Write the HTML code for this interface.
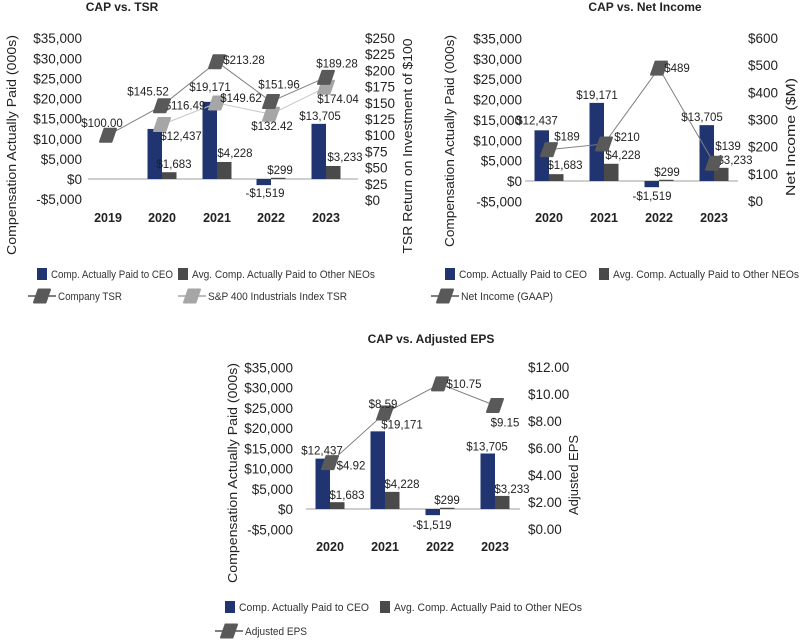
<!DOCTYPE html>
<html><head><meta charset="utf-8"><style>
html,body{margin:0;padding:0;background:#fff;}
svg{display:block;font-family:"Liberation Sans",sans-serif;}
</style></head><body>
<svg id="s" width="800" height="640" viewBox="0 0 800 640"></svg>
<script>
// ---------- data ----------
const years4 = ["2020","2021","2022","2023"];
const years5 = ["2019","2020","2021","2022","2023"];
const ceoCap = [12437, 19171, -1519, 13705];
const neoCap = [1683, 4228, 299, 3233];
const ceoLabels = ["$12,437","$19,171","-$1,519","$13,705"];
const neoLabels = ["$1,683","$4,228","$299","$3,233"];
const companyTsr = [100.00, 145.52, 213.28, 151.96, 189.28];
const companyTsrLabels = ["$100.00","$145.52","$213.28","$151.96","$189.28"];
const spTsr = [null, 116.49, 149.62, 132.42, 174.04];
const spTsrLabels = ["","$116.49","$149.62","$132.42","$174.04"];
const netIncome = [189, 210, 489, 139];
const netIncomeLabels = ["$189","$210","$489","$139"];
const adjEps = [4.92, 8.59, 10.75, 9.15];
const adjEpsLabels = ["$4.92","$8.59","$10.75","$9.15"];
const leftTicks = [35000,30000,25000,20000,15000,10000,5000,0,-5000];
const leftTickLabels = ["$35,000","$30,000","$25,000","$20,000","$15,000","$10,000","$5,000","$0","-$5,000"];
const tsrTicks = [250,225,200,175,150,125,100,75,50,25,0];
const niTicks = [600,500,400,300,200,100,0];
const epsTicks = [12,10,8,6,4,2,0];

const NS="http://www.w3.org/2000/svg";
const svg=document.getElementById('s');
function mk(tag,attrs,parent,text){const e=document.createElementNS(NS,tag);for(const k in attrs)e.setAttribute(k,attrs[k]);if(text!==undefined)e.textContent=text;(parent||svg).appendChild(e);return e;}
function marker(g,x,y,fill){return mk('path',{d:`M${x-8},${y+6.5} L${x-3.5},${y-6.5} L${x+8},${y-6.5} L${x+3.5},${y+6.5} Z`,fill:fill,stroke:fill,'stroke-width':2,'stroke-linejoin':'round'},g);}

function drawChart(c){
  const g=mk('g',{});
  
  
  const yL=v=>c.zeroY - v*(c.botY-c.topY)/40000;
  const yR=v=>c.rBot - (v-c.rMin)*(c.rBot-c.topY)/(c.rMax-c.rMin);
  const t=mk('text',{x:c.titleX,y:c.titleY,'text-anchor':'middle','font-size':12,'font-weight':'bold',fill:'#222'},g,c.title);
  
  leftTicks.forEach((v,i)=>{const e=mk('text',{x:c.leftX,y:yL(v)+5,'text-anchor':'end','font-size':13.5,fill:'#222'},g,leftTickLabels[i]);
    });
  c.rTicks.forEach(v=>{const e=mk('text',{x:c.rightX,y:yR(v)+5,'text-anchor':'start','font-size':13.5,fill:'#222'},g,c.rFmt(v));
    });
  const ax=mk('line',{x1:c.axX1,x2:c.axX2,y1:yL(0),y2:yL(0),stroke:'#bfbfbf','stroke-width':1.5},g);
  
  c.cats.forEach((cat,i)=>{const e=mk('text',{x:c.catX[i],y:c.yearY,'text-anchor':'middle','font-size':12.5,'font-weight':'bold',fill:'#222'},g,cat);
    });
  const off=c.catsOffset;
  ceoCap.forEach((v,i)=>{const cx=c.catX[i+off];const y0=yL(0),y1=yL(v);
    const r=mk('rect',{x:cx-14.5,y:Math.min(y0,y1),width:14.5,height:Math.abs(y1-y0),fill:'#1f3470'},g);
    
    const l=mk('text',{x:cx-7+c.ceoOff[i][0],y:y1+c.ceoOff[i][1]+4,'text-anchor':'middle','font-size':11.5,fill:'#222'},g,ceoLabels[i]);
    });
  neoCap.forEach((v,i)=>{const cx=c.catX[i+off];const y0=yL(0),y1=yL(v);
    const r=mk('rect',{x:cx,y:Math.min(y0,y1),width:14.5,height:Math.abs(y1-y0),fill:'#4a4a4a'},g);
    
    const l=mk('text',{x:cx+7+c.neoOff[i][0],y:y1+c.neoOff[i][1]+4,'text-anchor':'middle','font-size':11.5,fill:'#222'},g,neoLabels[i]);
    });
  c.lines.forEach(s=>{
    const pts=[];s.vals.forEach((v,i)=>{if(v!==null)pts.push([c.catX[i+s.off],yR(v),i]);});
    const p=mk('polyline',{points:pts.map(q=>q[0]+','+q[1]).join(' '),fill:'none',stroke:s.lineColor,'stroke-width':1},g);
    
    pts.forEach(q=>{const m=marker(g,q[0],q[1],s.color);
      
      const o=s.labOff[q[2]];
      const l=mk('text',{x:q[0]+o[0],y:q[1]+o[1]+4,'text-anchor':'middle','font-size':11.5,fill:'#222'},g,s.labels[q[2]]);
      });
  });
  const lt=mk('text',{transform:`translate(${c.lTitle[0]},${c.lTitle[1]}) rotate(-90)`,'text-anchor':'middle','font-size':13,fill:'#222',textLength:c.lTitle[2],lengthAdjust:'spacingAndGlyphs'},g,'Compensation Actually Paid (000s)');
  
  const rt=mk('text',{transform:`translate(${c.rTitle[0]},${c.rTitle[1]}) rotate(-90)`,'text-anchor':'middle','font-size':13,fill:'#222',textLength:c.rTitle[2],lengthAdjust:'spacingAndGlyphs'},g,c.rTitleText);
  
  // legend
  const L=c.legend;
  const a=mk('rect',{x:L.x1,y:L.y-6,width:10,height:12,fill:'#1f3470'},g);
  const at=mk('text',{x:L.x1+14,y:L.y+4,'font-size':11,fill:'#333',textLength:L.w1,lengthAdjust:'spacingAndGlyphs'},g,'Comp. Actually Paid to CEO');
  const b=mk('rect',{x:L.x2,y:L.y-6,width:10,height:12,fill:'#4a4a4a'},g);
  const bt=mk('text',{x:L.x2+14,y:L.y+4,'font-size':11,fill:'#333',textLength:L.w2,lengthAdjust:'spacingAndGlyphs'},g,'Avg. Comp. Actually Paid to Other NEOs');
  L.lines.forEach(s=>{
    const ln=mk('line',{x1:s.x,x2:s.x+28,y1:L.y2,y2:L.y2,stroke:s.lineColor,'stroke-width':1.5},g);
    const m=marker(g,s.x+14,L.y2,s.color);
    const tx=mk('text',{x:s.x+30,y:L.y2+4,'font-size':11,fill:'#333',textLength:s.w,lengthAdjust:'spacingAndGlyphs'},g,s.text);
  });
}

drawChart({name:'cap-vs-tsr-chart',title:'CAP vs. TSR',titleX:122,titleY:11,
  topY:38,botY:199,zeroY:179,leftX:82,rightX:365,axX1:88,axX2:358,
  rMin:0,rMax:250,rBot:200,rTicks:tsrTicks,rFmt:v=>'$'+v,
  cats:years5,catX:[108,162,217,271,326],catsOffset:1,yearY:222,
  ceoOff:[[26,7],[0,-15],[1,8],[1,-8]],neoOff:[[5,-8],[11,-9],[2,-8],[12,-9]],
  lines:[{name:'sp400-tsr',vals:spTsr,labels:spTsrLabels,off:0,color:'#a6a6a6',lineColor:'#c8c8c8',labOff:[[0,0],[23,-19],[24,-5],[1,12],[12,12]]},
         {name:'company-tsr',vals:companyTsr,labels:companyTsrLabels,off:0,color:'#595959',lineColor:'#808080',labOff:[[-6,-12],[-14,-14],[27,-2],[8,-17],[11,-14]]}],
  lTitle:[16,145,220],rTitle:[412,146,215],rTitleText:'TSR Return on Investment of $100',
  legend:{x1:37,x2:178,y:274,y2:296,w1:122,w2:183,lines:[{x:28,text:'Company TSR',key:'company-tsr',color:'#595959',lineColor:'#555',w:64},{x:178,text:'S&P 400 Industrials Index TSR',key:'sp400-tsr',color:'#a6a6a6',lineColor:'#a6a6a6',w:139}]}
});

drawChart({name:'cap-vs-net-income-chart',title:'CAP vs. Net Income',titleX:645,titleY:11,
  topY:38,botY:201,zeroY:181,leftX:522,rightX:748,axX1:525,axX2:738,
  rMin:0,rMax:600,rBot:201,rTicks:niTicks,rFmt:v=>'$'+v,
  cats:years4,catX:[549,604,659,714],catsOffset:0,yearY:222,
  ceoOff:[[-5,-10],[0,-8],[0,9],[-5,-8]],neoOff:[[9,-9],[12,-9],[1,-8],[14,-8]],
  lines:[{name:'net-income',vals:netIncome,labels:netIncomeLabels,off:0,color:'#595959',lineColor:'#808080',labOff:[[18,-13],[23,-7],[18,0],[14,-17]]}],
  lTitle:[454,141,212],rTitle:[795,137,118],rTitleText:'Net Income ($M)',
  legend:{x1:445,x2:599,y:274,y2:296,w1:128,w2:186,lines:[{x:431,text:'Net Income (GAAP)',key:'net-income',color:'#595959',lineColor:'#555',w:92}]}
});

drawChart({name:'cap-vs-adjusted-eps-chart',title:'CAP vs. Adjusted EPS',titleX:431,titleY:343,
  topY:367,botY:529,zeroY:509,leftX:293,rightX:528,axX1:306,axX2:520,
  rMin:0,rMax:12,rBot:529,rTicks:epsTicks,rFmt:v=>'$'+v.toFixed(2),
  cats:years4,catX:[330,385,440,495],catsOffset:0,yearY:551,
  ceoOff:[[-1,-8],[24,-7],[-1,10],[-1,-7]],neoOff:[[10,-7],[10,-8],[0,-8],[10,-7]],
  lines:[{name:'adjusted-eps',vals:adjEps,labels:adjEpsLabels,off:0,color:'#595959',lineColor:'#808080',labOff:[[21,3],[-2,-9],[24,0],[10,17]]}],
  lTitle:[237,473,220],rTitle:[578,475,80],rTitleText:'Adjusted EPS',
  legend:{x1:225,x2:380,y:607,y2:631,w1:130,w2:188,lines:[{x:215,text:'Adjusted EPS',key:'adjusted-eps',color:'#595959',lineColor:'#555',w:62}]}
});
</script>
</body></html>
